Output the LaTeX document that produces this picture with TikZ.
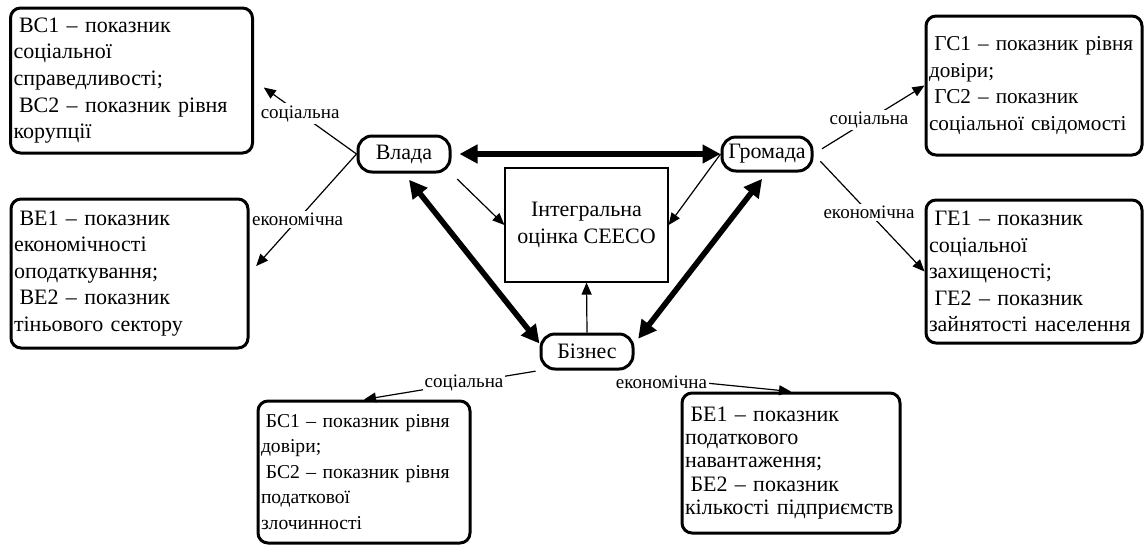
\documentclass[tikz,border=0pt]{standalone}
\usepackage{fontspec}
\setmainfont{Liberation Serif}
\usetikzlibrary{arrows.meta}
\newcommand{\pind}{\hspace*{0.25em}}

\begin{document}
\begin{tikzpicture}[x=0.5pt, y=-0.5pt,
    every node/.style={font=\fontsize{11}{13.3}\selectfont},
    pokaz/.style={draw, line width=1.5pt, rounded corners=5pt, align=left, inner xsep=1.5pt, inner ysep=0pt},
    subj/.style={draw, line width=1.5pt, rounded corners=7pt, inner sep=0pt},
    napr/.style={fill=white, inner sep=1pt, font=\fontsize{9.5}{11}\selectfont},
    vplyv/.style={line width=0.6pt, -{Triangle[length=6pt, width=5pt]}},
    zvyazok/.style={line width=2.8pt, {Triangle[length=9pt, width=9pt]}-{Triangle[length=9pt, width=9pt]}}]
    % \draw[help lines] (0,0) grid[step=50] (1144,547);
    \useasboundingbox (0,0) rectangle (1144,547);

    \node[subj, minimum width=46pt, minimum height=18pt] (vlada) at (404,154) {Влада};
    \node[subj, minimum width=45pt, minimum height=17pt] (gromada) at (767,154) {Громада};
    \node[subj, minimum width=46pt, minimum height=17.5pt] (biznes) at (587,351.5) {Бізнес};
    \node[draw, line width=0.6pt, minimum width=81.5pt, minimum height=57pt, align=center] (ioc) at (586.5,225) {Інтегральна\\ оцінка СЕЕСО};

    \node[pokaz, text width=118pt, minimum height=72.5pt] (vs) at (131.5,80.5) {\pind ВС1 – показник\\ соціальної\\ справедливості;\\ \mbox{\pind ВС2 – показник рівня}\\ корупції};
    \node[pokaz, text width=115.5pt, minimum height=74.5pt] (ve) at (129.5,273.5) {\pind ВЕ1 – показник\\ економічності\\ оподаткування;\\ \pind ВЕ2 – показник\\ \mbox{тіньового сектору}};
    \node[pokaz, text width=105pt, minimum height=69.5pt, font=\fontsize{10.6}{13.3}\selectfont] (gs) at (1034,85.5) {\mbox{\pind ГС1 – показник рівня}\\ довіри;\\ \pind ГС2 – показник\\ \mbox{соціальної свідомості}};
    \node[pokaz, text width=105pt, minimum height=71.5pt] (ge) at (1034,271.5) {\pind ГЕ1 – показник\\ соціальної\\ захищеності;\\ \pind ГЕ2 – показник\\ \mbox{зайнятості населення}};
    \node[pokaz, text width=103pt, minimum height=71pt, font=\fontsize{9.8}{12.75}\selectfont] (bs) at (364,472) {\mbox{\pind БС1 – показник рівня}\\ довіри;\\ \mbox{\pind БС2 – показник рівня}\\ податкової\\ злочинності};
    \node[pokaz, text width=106pt, minimum height=70pt, font=\fontsize{11}{11.7}\selectfont] (be) at (791,463) {\pind БЕ1 – показник\\ податкового\\ навантаження;\\ \pind БЕ2 – показник\\ \mbox{кількості підприємств}};

    \draw[zvyazok, shorten <=4pt] (vlada.east) -- (gromada.west);
    \draw[zvyazok, shorten <=4pt] (vlada.south) -- ([yshift=4pt]biznes.west);
    \draw[zvyazok, shorten <=4pt, shorten >=3pt] (gromada.south) -- ([yshift=4pt]biznes.east);

    \draw[vplyv, shorten <=4pt] (vlada.south east) -- (ioc.west);
    \draw[vplyv] (gromada.west) -- (ioc.east);
    \draw[vplyv] (biznes.north) -- (ioc.south);

    \draw[vplyv, shorten >=6pt] (vlada.west) -- node[napr, pos=0.55] {соціальна} (vs.east);
    \draw[vplyv, shorten >=5pt] (vlada.west) -- node[napr, pos=0.55] {економічна} (ve.east);
    \draw[vplyv, shorten <=5pt] (gromada.east) -- node[napr, pos=0.5] {соціальна} (gs.west);
    \draw[vplyv, shorten <=5pt] (gromada.east) -- node[napr, pos=0.5] {економічна} (ge.west);
    \draw[vplyv, shorten <=2pt] (biznes.south west) -- node[napr, pos=0.43] {соціальна} (bs.north);
    \draw[vplyv] ([xshift=-7pt, yshift=-2pt]biznes.south east) -- node[napr, pos=0.24, yshift=-2pt] {економічна} (be.north);
\end{tikzpicture}
\end{document}
